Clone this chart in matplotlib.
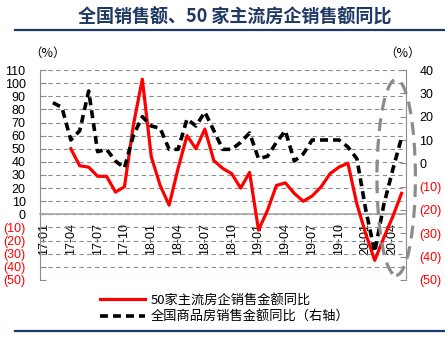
import numpy as np
import matplotlib
matplotlib.use('Agg')
import matplotlib.pyplot as plt
from matplotlib.patches import Ellipse
from matplotlib.lines import Line2D

#%%
#=====================================================================
#Data: monthly YoY (%), 17-01 .. 20-05
#=====================================================================

months = [f'{y}-{m:02d}' for y in (17, 18, 19, 20) for m in range(1, 13)][:41]

#50 top developers, sales amount YoY (left axis)
top50_yoy = [np.nan, np.nan, np.nan, 50, 37, 36, 29, 29, 17, 21,
             68, 103, 44, 22, 7, 35, 60, 50, 65, 41,
             35, 31, 20, 32, -12, 3, 22, 24, 16, 10,
             14, 21, 31, 36, 39, 8, -15, -35, -18, -2,
             16]

#national commercial housing sales amount YoY (right axis)
national_yoy = [np.nan, 26, 24, 10, 14, 31, 5, 6, 1, -2,
                12, 20, 16, 15, 6, 6, 19, 16, 22, 14,
                6, 6, 9, 13, 2, 3, 9, 14, 1, 4,
                10, 10, 10, 10, 7, 2, -20, -38, -18, -3,
                11]

left_ticks = list(range(-50, 111, 10))
right_ticks = list(range(-50, 41, 10))

label_top50 = '50家主流房企销售金额同比'
label_national = '全国商品房销售金额同比（右轴）'
title = '全国销售额、50 家主流房企销售额同比'

#%%
#=====================================================================
#Plot
#=====================================================================

plt.rcParams['font.family'] = ['Liberation Sans', 'DejaVu Sans']
cjk = ['Noto Sans CJK SC', 'DejaVu Sans']
navy = '#1F3864'
grey = '#8C8C8C'

def paren(v):
    #negative numbers shown in brackets
    return f'({abs(v)})' if v < 0 else f'{v}'

fig = plt.figure(figsize=(4.45, 3.4), dpi=100)
ax = fig.add_axes([0.0888, 0.1765, 0.8236, 0.6176])
ax2 = ax.twinx()

x = np.arange(len(months))
red_line, = ax.plot(x, top50_yoy, color='#FF0000', lw=2.3, zorder=3)
black_line, = ax2.plot(x, national_yoy, color='black', lw=2.6,
                       dashes=(2.2, 1.4), zorder=3)

ax.set_xlim(-0.5, len(months) - 0.5)
ax.set_ylim(-50, 110)
ax2.set_ylim(-50, 40)

#left axis
ax.set_yticks(left_ticks)
ax.set_yticklabels([paren(v) for v in left_ticks])
ax.tick_params(axis='y', direction='in', length=4, color=grey, pad=10, labelsize=9)
for lbl, v in zip(ax.get_yticklabels(), left_ticks):
    lbl.set_color('#FF0000' if v < 0 else 'black')

#right axis
ax2.set_yticks(right_ticks)
ax2.set_yticklabels([paren(v) for v in right_ticks])
ax2.tick_params(axis='y', direction='in', length=4, color=grey, pad=9.5, labelsize=9)
for lbl, v in zip(ax2.get_yticklabels(), right_ticks):
    lbl.set_color('#FF0000' if v < 0 else 'black')

#category axis sits on the zero line
ax.set_xticks(x[::3])
ax.set_xticklabels(months[::3])
ax.tick_params(axis='x', length=0, pad=6.5, labelsize=9, labelrotation=90)

ax.yaxis.grid(True, color=grey, linestyle=(0, (4, 3)), lw=0.8)
ax.set_axisbelow(True)

ax.spines['top'].set_visible(False)
ax.spines['right'].set_visible(False)
ax.spines['bottom'].set_position(('data', 0))
ax.spines['bottom'].set_color('#A0A0A0')
ax.spines['bottom'].set_linewidth(1.1)
ax.spines['left'].set_color(grey)
for s in ('top', 'bottom', 'left'):
    ax2.spines[s].set_visible(False)
ax2.spines['right'].set_color(grey)

#highlight the 2020 rebound
ax2.add_patch(Ellipse((39.4, -6), width=4.3, height=84, transform=ax2.transData,
                      fill=False, edgecolor=grey, lw=2.3,
                      linestyle=(0, (4, 2.5)), clip_on=False, zorder=5))

#header / footer
fig.text(0.527, 0.951, title, ha='center', va='center', fontsize=13,
         fontweight='bold', color=navy, family=cjk)
fig.add_artist(Line2D([0.034, 1.0], [0.913, 0.913], color=navy, lw=1.6))
fig.add_artist(Line2D([0.034, 1.0], [0.026, 0.026], color=navy, lw=1.6))

fig.text(0.106, 0.844, '（%）', ha='center', va='center', fontsize=9, family=cjk)
fig.text(0.905, 0.844, '（%）', ha='center', va='center', fontsize=9, family=cjk)

fig.legend(handles=[red_line, black_line], labels=[label_top50, label_national],
           loc='upper left', bbox_to_anchor=(0.225, 0.135), frameon=False,
           prop={'family': cjk, 'size': 9.5}, handlelength=3.4,
           handletextpad=0.4, labelspacing=0.25, borderpad=0, borderaxespad=0)

fig.savefig('out.png', dpi=100)
